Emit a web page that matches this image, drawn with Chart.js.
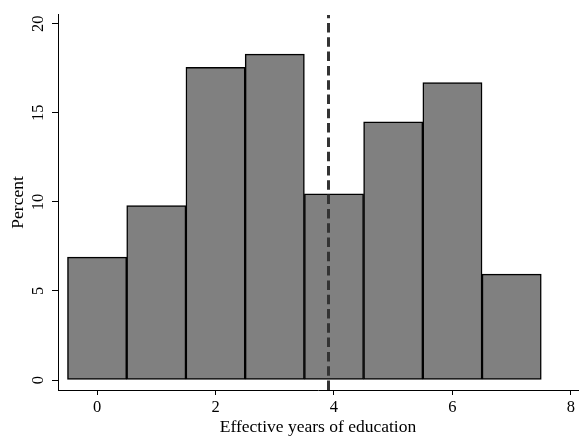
<!DOCTYPE html>
<html>
<head>
<meta charset="utf-8">
<script src="https://cdn.jsdelivr.net/npm/chart.js@4.4.1/dist/chart.umd.min.js"></script>
<style>
  body { margin: 0; background: #fff; }
  #wrap { width: 579px; height: 439px; }
</style>
</head>
<body>
<div id="wrap"><canvas id="chartCanvas" width="579" height="439"></canvas></div>
<script>
// histogram bins (bin centres) and percent per bin
const binCentres = [0, 1, 2, 3, 4, 5, 6, 7];
const percentValues = [6.9, 9.8, 17.55, 18.3, 10.45, 14.5, 16.7, 5.95];
const xTickValues = [0, 2, 4, 6, 8];
const yTickValues = [0, 5, 10, 15, 20];
const meanLine = [3.9];

const serif = "'Liberation Serif', 'Times New Roman', serif";

const meanLinePlugin = {
    id: 'meanLine',
    afterDatasetsDraw(chart) {
        const ctx = chart.ctx;
        const area = chart.chartArea;
        const xScale = chart.scales.x;
        ctx.save();
        ctx.strokeStyle = '#333333';
        ctx.lineWidth = 3;
        ctx.setLineDash([9.5, 4.8]);
        meanLine.forEach(v => {
            const px = Math.round(xScale.getPixelForValue(v)) + 0.5;
            ctx.beginPath();
            ctx.moveTo(px, area.bottom);
            ctx.lineTo(px, area.top);
            ctx.stroke();
        });
        ctx.restore();
    }
};

const points = binCentres.map((c, i) => ({ x: c, y: percentValues[i] }));

new Chart(document.getElementById('chartCanvas'), {
    type: 'bar',
    data: {
        datasets: [{
            data: points,
            backgroundColor: '#808080',
            borderColor: '#000000',
            borderWidth: 1.5,
            borderSkipped: false,
            barPercentage: 1,
            categoryPercentage: 1
        }]
    },
    options: {
        responsive: false,
        animation: false,
        layout: { padding: { top: 12, right: 1, left: 0, bottom: 0 } },
        plugins: {
            legend: { display: false },
            tooltip: { enabled: false }
        },
        scales: {
            x: {
                type: 'linear',
                offset: false,
                min: -0.66,
                max: 8.12,
                afterBuildTicks: s => { s.ticks = xTickValues.map(v => ({ value: v })); },
                afterFit: s => { s.height = 49; },
                grid: { display: true, offset: false, drawOnChartArea: false, drawTicks: true, tickLength: 5, color: '#000' },
                border: { display: true, color: '#000', width: 1 },
                ticks: { color: '#000', font: { family: serif, size: 16.5 }, padding: 3, maxRotation: 0 },
                title: {
                    display: true,
                    text: 'Effective years of education',
                    color: '#000',
                    font: { family: serif, size: 17.5 },
                    padding: { top: 0, bottom: 1.5 }
                }
            },
            y: {
                min: -0.56,
                max: 20.5,
                afterBuildTicks: s => { s.ticks = yTickValues.map(v => ({ value: v })); },
                afterFit: s => { s.width = 58; },
                grid: { display: true, drawOnChartArea: false, drawTicks: true, tickLength: 6, color: '#000' },
                border: { display: true, color: '#000', width: 1 },
                ticks: {
                    color: '#000',
                    font: { family: serif, size: 16.5 },
                    padding: 5,
                    minRotation: 90,
                    maxRotation: 90,
                    crossAlign: 'center'
                },
                title: {
                    display: true,
                    text: 'Percent',
                    color: '#000',
                    font: { family: serif, size: 17.5 },
                    padding: { top: 8, bottom: 0 }
                }
            }
        }
    },
    plugins: [meanLinePlugin]
});
</script>
</body>
</html>
